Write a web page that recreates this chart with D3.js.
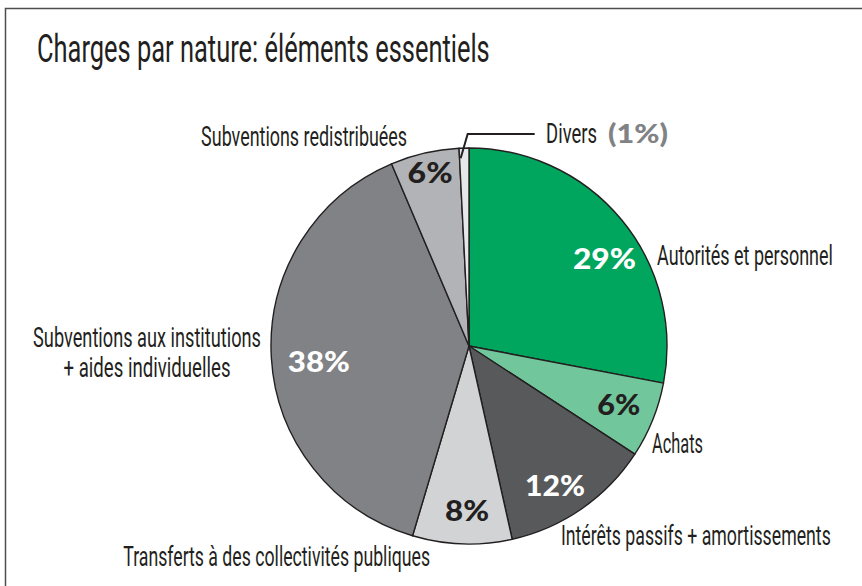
<!DOCTYPE html>
<html>
<head>
<meta charset="utf-8">
<script src="https://cdn.jsdelivr.net/npm/d3@7"></script>
<style>
  body { margin: 0; background: #fff; }
  svg { display: block; }
  .lbl { font-family: Roboto, "Noto Sans", sans-serif; font-weight: 400; font-size: 27px; fill: #231f20; }
  .pct { font-family: Lato, "Noto Sans", sans-serif; font-weight: 900; font-size: 28px; }
</style>
</head>
<body>
<svg width="862" height="586"></svg>
<script>
// slices, clockwise from 12 o'clock
var categories = ["Autorités et personnel", "Achats", "Intérêts passifs + amortissements",
                  "Transferts à des collectivités publiques",
                  "Subventions aux institutions + aides individuelles",
                  "Subventions redistribuées", "Divers"];
var shares = [28.0, 6.2, 12.3, 8.1, 39.0, 5.6, 0.8];
var pctLabels = ["29%", "6%", "12%", "8%", "38%", "6%", "1%"];
var colors = ["#00a65d", "#72c69b", "#58595b", "#d1d3d4", "#808285", "#b1b3b6", "#e6e7e8"];
var pctColors = ["#fff", "#231f20", "#fff", "#231f20", "#fff", "#231f20", "#808285"];

var svg = d3.select("svg"),
    cx = 469, cy = 346, r = 198;

function polar(deg, dist) {
  var a = deg * Math.PI / 180;
  return [cx + dist * Math.sin(a), cy - dist * Math.cos(a)];
}

// squeeze a text horizontally to a given width (the original face is condensed)
function fit(t, x, y, w) {
  var k = w / t.node().getComputedTextLength();
  t.attr("x", 0).attr("y", 0)
   .attr("transform", "translate(" + x + "," + y + ") scale(" + k + ",1)");
  return t;
}

// frame
svg.append("rect")
    .attr("x", 5.5).attr("y", 8.5)
    .attr("width", 900).attr("height", 700)
    .attr("fill", "none")
    .attr("stroke", "#4d4d4f")
    .attr("stroke-width", 1.5);

fit(svg.append("text")
    .attr("class", "lbl")
    .style("font-size", "39px")
    .text("Charges par nature: éléments essentiels"), 37, 62, 453);

var pie = d3.pie().sort(null).value(function(d) { return d; });
var arc = d3.arc().innerRadius(0).outerRadius(r);
var arcs = pie(shares);

var g = svg.append("g").attr("transform", "translate(" + cx + "," + cy + ")");
g.selectAll("path")
  .data(arcs)
  .enter().append("path")
    .attr("d", arc)
    .attr("fill", function(d, i) { return colors[i]; })
    .attr("stroke", "#231f20")
    .attr("stroke-width", 1.4)
    .attr("stroke-linejoin", "round");

// percent labels: [angle, distance, width]
var pctLayout = [[57.3, 161, 63], [111.5, 161, 43], [148.4, 164, 60],
                 [180.7, 165, 44], [264, 151, 62], [347.3, 177, 45]];
pctLayout.forEach(function(p, i) {
  var pt = polar(p[0], p[1]);
  fit(svg.append("text")
      .attr("class", "pct")
      .attr("text-anchor", "middle")
      .attr("fill", pctColors[i])
      .text(pctLabels[i]), pt[0], pt[1] + 10, p[2]);
});

// name labels: [angle, distance, anchor, widths per line]
var nameLines = [["Autorités et personnel"], ["Achats"], ["Intérêts passifs + amortissements"],
                 ["Transferts à des collectivités publiques"],
                 ["Subventions aux institutions", "+ aides individuelles"],
                 ["Subventions redistribuées"], ["Divers"]];
var nameLayout = [[66.7, 204.7, "start", [176]], [120.3, 212, "start", [51]],
                  [155.2, 219.2, "start", [270]], [190.05, 223.4, "end", [307]],
                  [269.8, 322, "middle", [228, 167]], [342.8, 209.4, "end", [206]],
                  [20.8, 217, "start", [51]]];
nameLayout.forEach(function(p, i) {
  var pt = polar(p[0], p[1]);
  nameLines[i].forEach(function(line, j) {
    fit(svg.append("text")
        .attr("class", "lbl")
        .attr("text-anchor", p[2])
        .text(line), pt[0], pt[1] + j * 30, p[3][j]);
  });
});

// Divers: grey bold percentage after its name
var dv = polar(20.8, 217);
fit(svg.append("text")
    .attr("class", "pct")
    .style("font-size", "26px")
    .attr("fill", pctColors[6])
    .text("(" + pctLabels[6] + ")"), dv[0] + 62, dv[1], 60);

// leader line for the thin Divers slice
var mid = (arcs[6].startAngle + arcs[6].endAngle) / 2 * 180 / Math.PI;
var p0 = polar(mid - 1.1, r - 10),
    p1 = [p0[0] + 7, cy - r - 14],
    p2 = [p1[0] + 67, p1[1]];
svg.append("path")
    .attr("d", d3.line()([p0, p1, p2]))
    .attr("fill", "none")
    .attr("stroke", "#231f20")
    .attr("stroke-width", 2);
</script>
</body>
</html>
